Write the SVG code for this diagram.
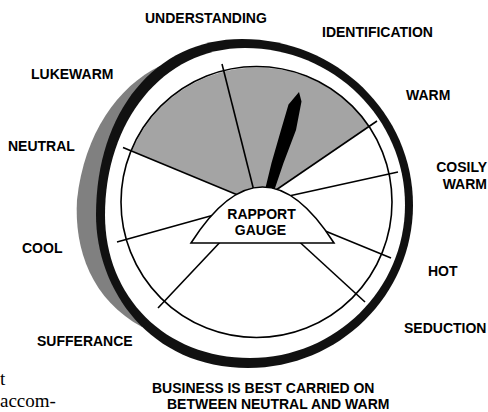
<svg xmlns="http://www.w3.org/2000/svg" width="488" height="412" viewBox="0 0 488 412">
<style>
.lbl{font-family:"Liberation Sans",Arial,sans-serif;font-weight:bold;font-size:14px;fill:#000}
.body{font-family:"Liberation Serif","Times New Roman",serif;font-size:19px;fill:#000}
.spoke{stroke:#000;stroke-width:1.6;fill:none}
</style>
<rect width="488" height="412" fill="#fff"/>
<g id="dial">
  <path id="shadow" d="M160,66 C118,86 84,134 77,200 C74,250 92,300 142,327 L200,200 Z" fill="#808080"/>
  <path id="rim" d="M242,39 C336.4,39 413,113.3 413,205 C413,295 339.1,368 248,368 C150,368 96,290 96,215 C96,112 155,39 242,39 Z" fill="#111"/>
  <path id="face" d="M245,48 C333.4,48 405,118.3 405,205 C405,289.5 335.6,358 250,358 C165,358 105,297 105,215 C105,122 162,48 245,48 Z" fill="#fff"/>
  <path id="zone" d="M257,203 L131.8,151.1 A135.5,135.5 0 0 1 368.9,126.5 Z" fill="#a4a4a4"/>
  <circle cx="256.5" cy="202" r="135.5" fill="none" stroke="#000" stroke-width="1.6"/>
</g>
<g id="connectors">
  <line class="spoke" x1="257" y1="203" x2="222" y2="64"/>
  <line class="spoke" x1="257" y1="203" x2="377" y2="121"/>
  <line class="spoke" x1="257" y1="203" x2="398" y2="172"/>
  <line class="spoke" x1="257" y1="203" x2="391" y2="258"/>
  <line class="spoke" x1="257" y1="203" x2="365" y2="302"/>
  <line class="spoke" x1="257" y1="203" x2="158" y2="308"/>
  <line class="spoke" x1="257" y1="203" x2="117" y2="242"/>
  <line class="spoke" x1="257" y1="203" x2="123" y2="147.5"/>
</g>
<g id="needle">
  <polygon points="299,92 301.5,101.5 296,130 283.5,163 273,194 264,194 271.5,163 281,130 288.5,104.5" fill="#000"/>
</g>
<g id="gauge">
  <path d="M191,243 Q262.5,131 334,243 Z" fill="#fff" stroke="#000" stroke-width="1.6" stroke-linejoin="miter"/>
  <text class="lbl" x="261.5" y="219" text-anchor="middle">RAPPORT</text>
  <text class="lbl" x="260.5" y="235" text-anchor="middle">GAUGE</text>
</g>
<g id="labels">
  <text class="lbl" x="145" y="22.5">UNDERSTANDING</text>
  <text class="lbl" x="322" y="37">IDENTIFICATION</text>
  <text class="lbl" x="406" y="99.5">WARM</text>
  <text class="lbl" x="487" y="171.5" text-anchor="end">COSILY</text>
  <text class="lbl" x="487" y="189" text-anchor="end">WARM</text>
  <text class="lbl" x="428" y="275.5">HOT</text>
  <text class="lbl" x="404" y="333">SEDUCTION</text>
  <text class="lbl" x="31" y="78.5">LUKEWARM</text>
  <text class="lbl" x="8" y="151">NEUTRAL</text>
  <text class="lbl" x="22" y="252.5">COOL</text>
  <text class="lbl" x="37" y="346">SUFFERANCE</text>
  <text class="lbl" x="152" y="393">BUSINESS IS BEST CARRIED ON</text>
  <text class="lbl" x="167" y="409">BETWEEN NEUTRAL AND WARM</text>
</g>
<g id="bodytext">
  <text class="body" x="0" y="385">t</text>
  <text class="body" x="0" y="407">accom-</text>
</g>
</svg>
